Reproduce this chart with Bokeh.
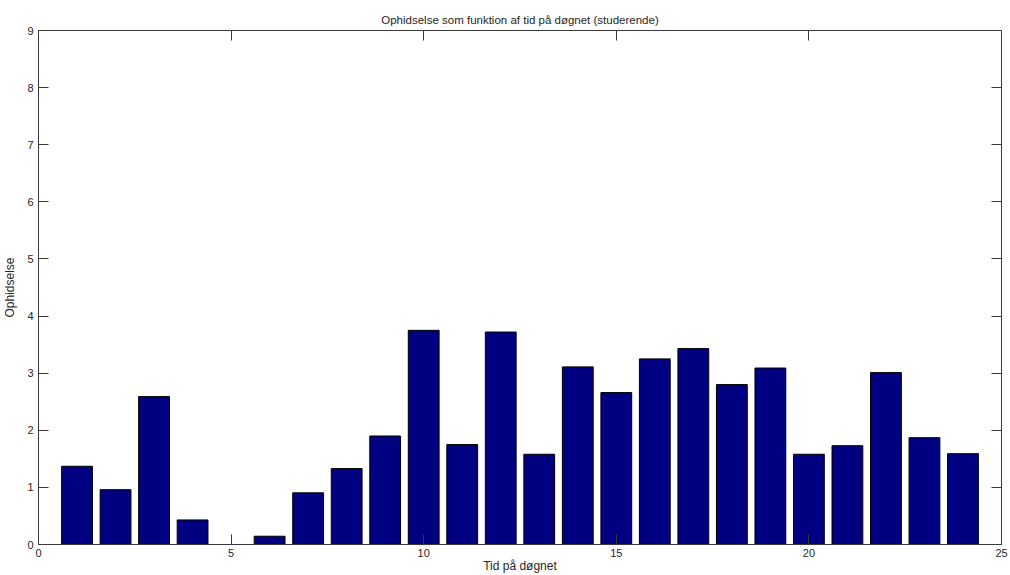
from bokeh.plotting import figure
from bokeh.models import LinearAxis, Range1d, FixedTicker, ColumnDataSource
from bokeh.embed import file_html
from bokeh.resources import INLINE

hours = list(range(1, 25))
values = [1.37, 0.96, 2.59, 0.43, 0.0, 0.145, 0.905, 1.33, 1.90, 3.75, 1.75, 3.72,
          1.58, 3.11, 2.66, 3.25, 3.43, 2.80, 3.09, 1.58, 1.73, 3.01, 1.87, 1.59]
x_ticks = [0, 5, 10, 15, 20, 25]
y_ticks = [0, 1, 2, 3, 4, 5, 6, 7, 8, 9]

title_text = "Ophidselse som funktion af tid på døgnet (studerende)"
x_label = "Tid på døgnet"
y_label = "Ophidselse"

FONT = "Liberation Sans"
AX = "#3a3a3a"
TXT = "#262626"

src = ColumnDataSource(dict(x=hours, top=values))

p = figure(width=1010, height=575, x_range=Range1d(0, 25), y_range=Range1d(0, 9),
           output_backend="svg", toolbar_location=None, title=title_text,
           min_border_left=38, min_border_right=9, min_border_top=30, min_border_bottom=31,
           x_axis_label=x_label, y_axis_label=y_label)

p.vbar(x="x", top="top", bottom=0, width=0.8, source=src,
       fill_color="#000080", line_color="black", line_width=1)

p.xgrid.visible = False
p.ygrid.visible = False
p.outline_line_color = AX
p.outline_line_width = 1
p.background_fill_color = "white"
p.border_fill_color = "white"

p.title.align = "center"
p.title.text_font = FONT
p.title.text_font_size = "11.5px"
p.title.text_font_style = "normal"
p.title.text_color = TXT
p.title.standoff = 10

for ax, ticks in ((p.xaxis[0], x_ticks), (p.yaxis[0], y_ticks)):
    ax.ticker = FixedTicker(ticks=ticks)
    ax.minor_tick_line_color = None
    ax.major_tick_in = 10
    ax.major_tick_out = 0
    ax.axis_line_color = AX
    ax.major_tick_line_color = AX
    ax.major_label_text_font = FONT
    ax.major_label_text_font_size = "11px"
    ax.major_label_text_color = TXT
    ax.axis_label_text_font = FONT
    ax.axis_label_text_font_size = "12px"
    ax.axis_label_text_font_style = "normal"
    ax.axis_label_text_color = TXT

p.xaxis[0].major_label_standoff = 4
p.xaxis[0].axis_label_standoff = -1
p.yaxis[0].major_label_standoff = 5
p.yaxis[0].axis_label_standoff = 7

for loc, ticks in (("right", y_ticks), ("above", x_ticks)):
    a = LinearAxis(ticker=FixedTicker(ticks=ticks))
    a.major_label_text_font_size = "1px"
    a.major_label_text_color = None
    a.major_label_standoff = 0
    a.major_tick_in = 10
    a.major_tick_out = 0
    a.minor_tick_line_color = None
    a.axis_line_color = AX
    a.major_tick_line_color = AX
    p.add_layout(a, loc)

open("out.html", "w").write(file_html(p, INLINE))
